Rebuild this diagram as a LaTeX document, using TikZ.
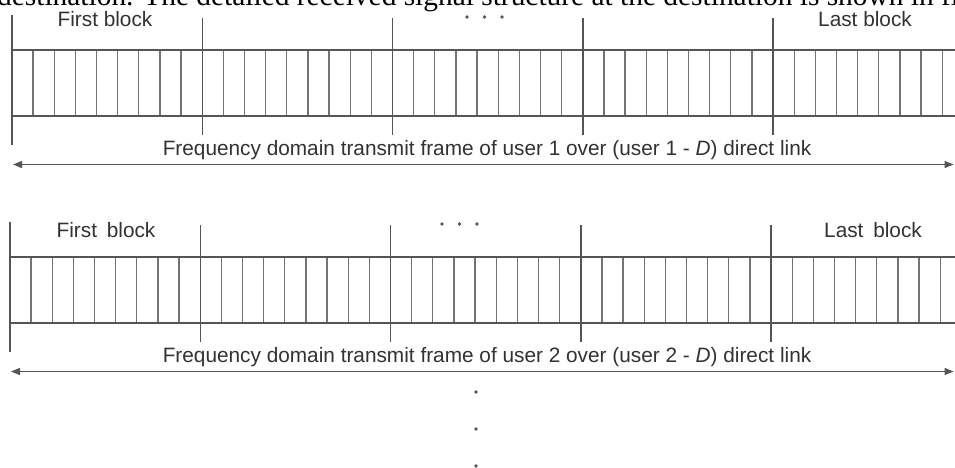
\documentclass[tikz,border=0pt]{standalone}
\usepackage{fontspec}
\setmainfont{Liberation Sans}
\newfontfamily\bodyserif{Liberation Serif}
\usetikzlibrary{arrows.meta}
\definecolor{framegray}{RGB}{85,85,85}
\definecolor{cellgray}{RGB}{115,115,115}
\definecolor{labelgray}{RGB}{50,50,50}

\begin{document}
\begin{tikzpicture}[x=1pt,y=-1pt,
  frameline/.style={draw=framegray,line width=1.5pt},
  cellline/.style={draw=cellgray,line width=1.3pt},
  label/.style={text=labelgray,font=\fontsize{20.8}{24}\selectfont,inner sep=0pt,anchor=base},
  span/.style={draw=framegray,line width=1.3pt,
    {Triangle[length=9pt,width=7pt]}-{Triangle[length=9pt,width=7pt]}},
  dot/.style={circle,fill=framegray,draw=none,inner sep=0pt,minimum size=3.6pt}]
\useasboundingbox (0,0) rectangle (955,468);
\fill[white] (0,0) rectangle (955,468);
\clip (0,0) rectangle (955,468);

% running text of the page above the figure
\node[anchor=base west,inner sep=0pt,font=\bodyserif\fontsize{29.4}{32}\selectfont] (pagetext) at (-3,6)
  {destination. The detailed received signal structure at the destination is shown in fi};

% one frame per user: left x, top y, user, dots x, label baseline, first/last label x, name, label gap
\foreach \fx/\fy/\u/\dx/\lb/\firstx/\lastx/\nm/\gap in
  {12/50/1/467/27/105/865/a/0pt, 10/257/2/442/237/106/873/b/4pt}{
  % subcarrier cells
  \foreach \k in {1,...,45}
    \draw[cellline] ({\fx+\k*21.14},\fy) -- ++(0,66);
  % frame outline
  \draw[frameline] (\fx,\fy) -- (960,\fy);
  \draw[frameline] (\fx,\fy+66) -- (960,\fy+66);
  \draw[frameline] (\fx,\fy-35) -- (\fx,\fy+95);
  % block boundaries
  \foreach \j in {1,...,4}
    \draw[frameline] ({\fx+\j*190.25},\fy-32) -- ++(0,117);
  % ellipsis between blocks
  \node[dot] (hdot1-\nm) at (\dx,\fy-33) {};
  \node[dot] (hdot2-\nm) at (\dx+17.5,\fy-33) {};
  \node[dot] (hdot3-\nm) at (\dx+35,\fy-33) {};
  % block labels
  \node[label] (first-\nm) at (\firstx,\lb) {First\hspace{\gap} block};
  \node[label] (last-\nm) at (\lastx,\lb) {Last\hspace{\gap} block};
  % frame caption and span arrow
  \node[label] (caption-\nm) at (487,\fy+105)
    {Frequency domain transmit frame of user \u\ over (user \u\ - {\itshape D}) direct link};
  \coordinate (spanL-\nm) at (\fx+1,\fy+114.5);
  \coordinate (spanR-\nm) at (953.5,\fy+114.5);
  \draw[span] (spanL-\nm) -- (spanR-\nm);
}

% further users follow
\node[dot] (vdot1) at (476,392) {};
\node[dot] (vdot2) at (476,429) {};
\node[dot] (vdot3) at (476,466) {};
\end{tikzpicture}
\end{document}
